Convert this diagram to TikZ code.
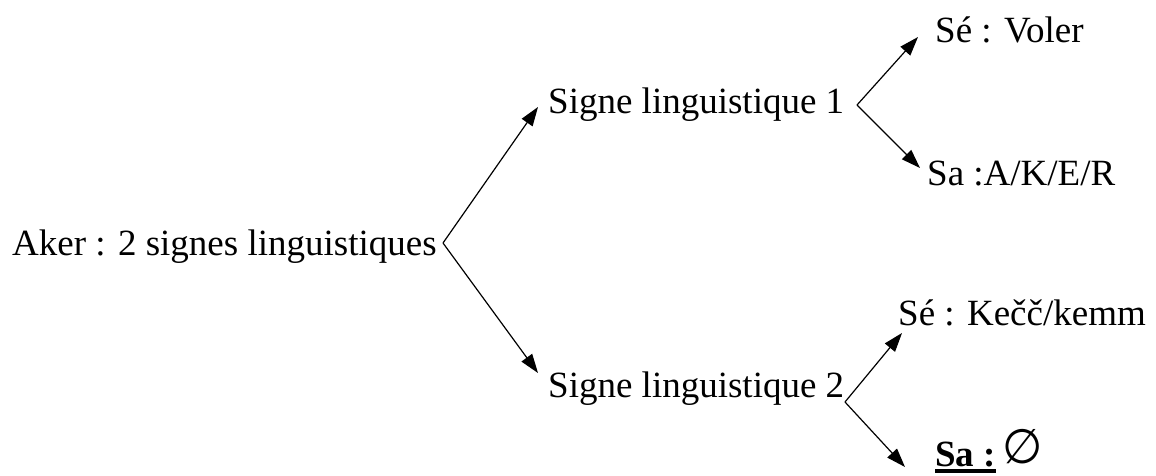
\documentclass[tikz,border=0pt]{standalone}
\usepackage{fontspec}
\setmainfont{Liberation Serif}
\newfontfamily\symfont{DejaVu Sans}
\usetikzlibrary{arrows.meta}
\begin{document}
\begin{tikzpicture}[x=1pt,y=1pt,
  lbl/.style={anchor=base west,inner sep=0pt,font=\fontsize{37}{44}\selectfont},
  arr/.style={line width=1.2pt,-{Triangle[length=19pt,width=13pt]}}]
\useasboundingbox (0,0) rectangle (1156,475);
\node[lbl] (aker) at (12,220) {Aker : 2 signes linguistiques};
\node[lbl] (s1) at (548,362) {Signe linguistique 1};
\node[lbl] (s2) at (548,78) {Signe linguistique 2};
\node[lbl] (se1) at (935,432) {Sé : Voler};
\node[lbl] (sa2) at (935,9) {\bfseries Sa :};
\node[lbl] (sa1) at (927,290) {Sa :A/K/E/R};
\node[lbl] (se2) at (898,150) {Sé : Kečč/kemm};
\node[lbl] (nul) at (1002,12) {\scalebox{1.25}[1.3]{\symfont ∅}};
\draw[line width=3.5pt] ([yshift=-5pt]sa2.base west) -- ([yshift=-5pt]sa2.base east);
\coordinate (b1) at (443,232);
\coordinate (b2) at (857,370);
\coordinate (b3) at (845,73);
\draw[arr] (b1) -- ([shift={(-10,6)}]s1.base west);
\draw[arr] (b1) -- ([shift={(-10,24)}]s2.base west);
\draw[arr] (b2) -- ([shift={(-17,6)}]se1.base west);
\draw[arr] (b2) -- ([shift={(-7,17)}]sa1.base west);
\draw[arr] (b3) -- ([shift={(4,-8)}]se2.base west);
\draw[arr] (b3) -- ([shift={(-30,-1)}]sa2.base west);
\end{tikzpicture}
\end{document}
